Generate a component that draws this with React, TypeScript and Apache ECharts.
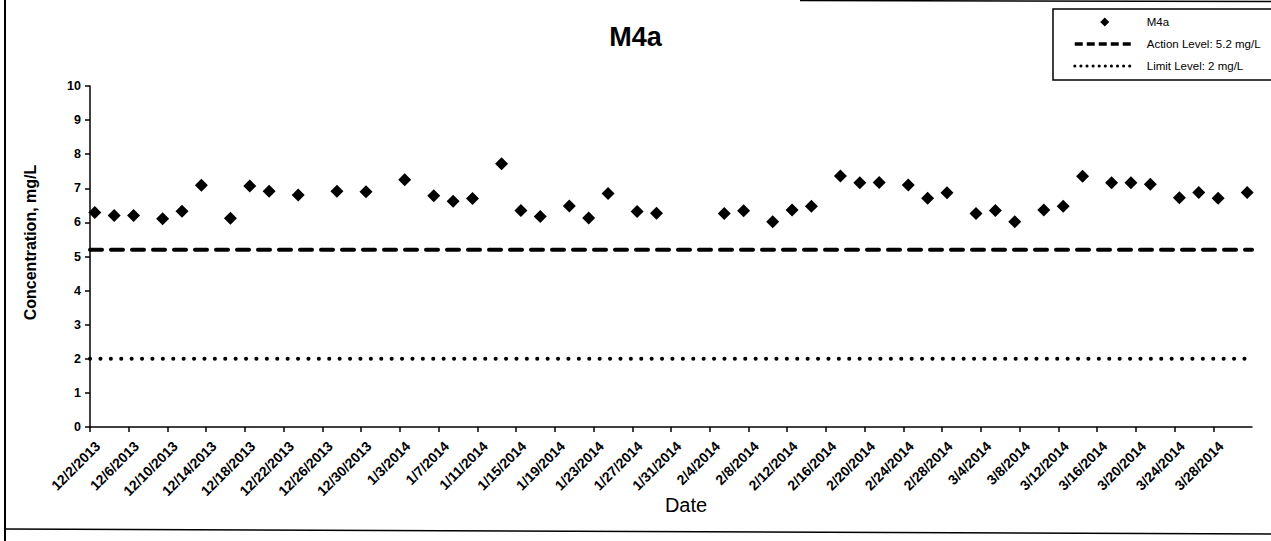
import React, { useEffect, useRef } from "react";
import * as echarts from "echarts";

// ---- data ----
const sampleDates = [
  "12/2/2013", "12/4/2013", "12/6/2013", "12/9/2013", "12/11/2013", "12/13/2013",
  "12/16/2013", "12/18/2013", "12/20/2013", "12/23/2013", "12/27/2013", "12/30/2013",
  "1/3/2014", "1/6/2014", "1/8/2014", "1/10/2014", "1/13/2014", "1/15/2014",
  "1/17/2014", "1/20/2014", "1/22/2014", "1/24/2014", "1/27/2014", "1/29/2014",
  "2/5/2014", "2/7/2014", "2/10/2014", "2/12/2014", "2/14/2014", "2/17/2014",
  "2/19/2014", "2/21/2014", "2/24/2014", "2/26/2014", "2/28/2014", "3/3/2014",
  "3/5/2014", "3/7/2014", "3/10/2014", "3/12/2014", "3/14/2014", "3/17/2014",
  "3/19/2014", "3/21/2014", "3/24/2014", "3/26/2014", "3/28/2014", "3/31/2014",
];
const m4aValues = [
  6.29, 6.2, 6.2, 6.11, 6.33, 7.09,
  6.12, 7.07, 6.91, 6.8, 6.91, 6.9,
  7.25, 6.78, 6.62, 6.7, 7.72, 6.35,
  6.17, 6.48, 6.13, 6.85, 6.32, 6.27,
  6.26, 6.34, 6.02, 6.36, 6.47, 7.36,
  7.16, 7.17, 7.1, 6.71, 6.87, 6.26,
  6.35, 6.02, 6.36, 6.47, 7.35, 7.16,
  7.16, 7.12, 6.72, 6.88, 6.71, 6.88,
];
const actionLevel = 5.2;
const limitLevel = 2;
const axisStartDate = "12/2/2013";
const axisEndDate = "4/1/2014";
const tickStepDays = 4;
const yMin = 0;
const yMax = 10;
const yStep = 1;

const seriesNames = ["M4a", "Action Level: 5.2 mg/L", "Limit Level: 2 mg/L"];

// ---- helpers ----
const DAY = 86400000;
const toUTC = (s: string) => {
  const [m, d, y] = s.split("/").map(Number);
  return Date.UTC(y, m - 1, d);
};
const START = toUTC(axisStartDate);
const dayIndex = (s: string) => (toUTC(s) - START) / DAY;
const fmtDay = (v: number) => {
  const d = new Date(START + Math.round(v) * DAY);
  return `${d.getUTCMonth() + 1}/${d.getUTCDate()}/${d.getUTCFullYear()}`;
};

const FONT = "'Liberation Sans', Arial, sans-serif";
// legend diamond icon: padded path so the diamond keeps its shape inside a wide legend slot
const LEGEND_DIAMOND = "path://M0,0Z M60,9Z M25.5,4.5L30,0L34.5,4.5L30,9Z";

export default function App() {
  const ref = useRef<HTMLDivElement>(null);

  useEffect(() => {
    if (!ref.current) return;
    const chart = echarts.init(ref.current, undefined, { renderer: "svg" });
    const xMax = dayIndex(axisEndDate);
    // Excel date axis places each day's value in the middle of its day slot
    const points = sampleDates.map((d, i) => [dayIndex(d) + 0.5, m4aValues[i]]);

    chart.setOption({
      animation: false,
      backgroundColor: "#ffffff",
      textStyle: { fontFamily: FONT, color: "#000" },
      title: {
        text: "M4a",
        left: "center",
        top: 18,
        textStyle: { fontFamily: FONT, fontSize: 27, fontWeight: "bold", color: "#000" },
      },
      legend: {
        orient: "vertical",
        left: 1053,
        top: 9,
        padding: [2, 40, 3, 20],
        borderColor: "#000",
        borderWidth: 1.5,
        itemWidth: 60,
        itemHeight: 9,
        itemGap: 0,
        data: [
          { name: seriesNames[0], icon: LEGEND_DIAMOND, itemStyle: { color: "#000", opacity: 1 } },
          {
            name: seriesNames[1],
            itemStyle: { opacity: 0 },
            lineStyle: { color: "#000", width: 3.5, type: [8, 4], cap: "butt" },
          },
          {
            name: seriesNames[2],
            itemStyle: { opacity: 0 },
            lineStyle: { color: "#000", width: 3, type: [0.1, 6], cap: "round" },
          },
        ],
        textStyle: {
          fontFamily: FONT,
          fontSize: 11.5,
          color: "#000",
          lineHeight: 22,
          padding: [0, 0, 0, 7],
        },
      },
      grid: { left: 90, right: 19, top: 86, bottom: 114 },
      xAxis: {
        type: "value",
        min: 0,
        max: xMax,
        interval: tickStepDays,
        name: "Date",
        nameLocation: "middle",
        nameGap: 68,
        nameMoveOverlap: false,
        nameTextStyle: { fontFamily: FONT, fontSize: 20, color: "#000", padding: [0, 0, 0, 30] },
        splitLine: { show: false },
        axisLine: { show: true, onZero: false, lineStyle: { color: "#000", width: 1.5 } },
        axisTick: { show: true, length: 5, lineStyle: { color: "#000", width: 1.5 } },
        axisLabel: {
          rotate: 45,
          margin: 9,
          verticalAlign: "top",
          lineHeight: 22,
          showMaxLabel: false,
          fontFamily: FONT,
          fontSize: 14,
          fontWeight: "bold",
          color: "#000",
          formatter: (v: number) => fmtDay(v),
        },
      },
      yAxis: {
        type: "value",
        min: yMin,
        max: yMax,
        interval: yStep,
        name: "Concentration, mg/L",
        nameLocation: "middle",
        nameGap: 52,
        nameRotate: 90,
        nameMoveOverlap: false,
        nameTextStyle: {
          fontFamily: FONT,
          fontSize: 16,
          fontWeight: "bold",
          color: "#000",
          padding: [0, 0, 0, 28],
        },
        splitLine: { show: false },
        axisLine: { show: true, lineStyle: { color: "#000", width: 1.5 } },
        axisTick: { show: true, length: 5, lineStyle: { color: "#000", width: 1.5 } },
        axisLabel: {
          margin: 9,
          fontFamily: FONT,
          fontSize: 12.5,
          fontWeight: "bold",
          color: "#000",
        },
      },
      series: [
        {
          name: seriesNames[0],
          type: "scatter",
          symbol: "diamond",
          symbolSize: 13,
          itemStyle: { color: "#000", opacity: 1 },
          data: points,
          z: 5,
        },
        {
          name: seriesNames[1],
          type: "line",
          symbol: "none",
          data: [
            [0, actionLevel],
            [xMax, actionLevel],
          ],
          itemStyle: { color: "#000" },
          lineStyle: { color: "#000", width: 4, type: [12, 9], cap: "round" },
        },
        {
          name: seriesNames[2],
          type: "line",
          symbol: "none",
          data: [
            [0, limitLevel],
            [xMax, limitLevel],
          ],
          itemStyle: { color: "#000" },
          lineStyle: { color: "#000", width: 4, type: [0.1, 10.3], cap: "round" },
        },
      ],
      graphic: [
        {
          type: "line",
          shape: { x1: 5, y1: 0, x2: 5, y2: 541 },
          style: { stroke: "#000", lineWidth: 2 },
          silent: true,
        },
        {
          type: "line",
          shape: { x1: 5, y1: 529, x2: 1271, y2: 534 },
          style: { stroke: "#000", lineWidth: 1.5 },
          silent: true,
        },
        {
          type: "line",
          shape: { x1: 800, y1: 0.5, x2: 1271, y2: 1.5 },
          style: { stroke: "#000", lineWidth: 1.5 },
          silent: true,
        },
      ],
    });
    return () => chart.dispose();
  }, []);

  return (
    <div
      ref={ref}
      style={{ position: "fixed", left: 0, top: 0, width: 1271, height: 541, background: "#fff" }}
    />
  );
}
